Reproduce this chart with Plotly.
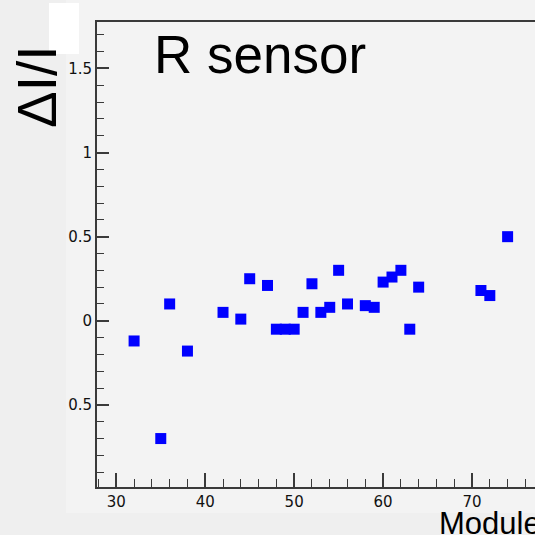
import plotly.graph_objects as go

module = [32, 35, 36, 38, 42, 44, 45, 47, 48, 49, 50, 51, 52, 53, 54, 55, 56, 58, 59, 60, 61, 62, 63, 64, 71, 72, 74]
delta_i = [-0.12, -0.70, 0.10, -0.18, 0.05, 0.01, 0.25, 0.21, -0.05, -0.05, -0.05, 0.05, 0.22, 0.05, 0.08, 0.30, 0.10, 0.09, 0.08, 0.23, 0.26, 0.30, -0.05, 0.20, 0.18, 0.15, 0.50]

x_ticks = [30, 40, 50, 60, 70]
y_tickvals = [-0.5, 0, 0.5, 1, 1.5]
y_ticktext = ["0.5", "0", "0.5", "1", "1.5"]

fig = go.Figure()
fig.add_trace(go.Scatter(
    x=module, y=delta_i, mode="markers",
    marker=dict(symbol="square", size=11, color="#0000ff", line=dict(width=0)),
    showlegend=False, cliponaxis=False, hoverinfo="skip",
))

axis_color = "#3a3a3a"
tick_font = dict(family="DejaVu Sans, sans-serif", size=15, color="#111")
fig.update_layout(
    width=535, height=535,
    margin=dict(l=97, r=0, t=22, b=48, pad=0),
    paper_bgcolor="#efefef",
    plot_bgcolor="#f3f3f3",
    font=dict(family="Liberation Sans, Arial, sans-serif", color="black"),
    xaxis=dict(
        range=[27.83, 77.08], tickvals=x_ticks, ticks="inside", ticklen=14,
        tickwidth=1.5, tickcolor=axis_color, showline=True, linewidth=2,
        linecolor=axis_color, mirror=True, showgrid=False, zeroline=False,
        tickfont=tick_font,
        minor=dict(dtick=2, tick0=30, ticks="inside", ticklen=8, tickcolor=axis_color, tickwidth=1.2, showgrid=False),
    ),
    yaxis=dict(
        range=[-0.988, 1.776], tickvals=y_tickvals, ticktext=y_ticktext, ticks="inside",
        ticklen=12, tickwidth=1.5, tickcolor=axis_color, showline=True, linewidth=2,
        linecolor=axis_color, mirror=False, showgrid=False, zeroline=False,
        tickfont=tick_font,
        minor=dict(dtick=0.1, tick0=0, ticks="inside", ticklen=7, tickcolor=axis_color, tickwidth=1.2, showgrid=False),
    ),
    shapes=[
        dict(type="rect", xref="paper", yref="paper", layer="below",
             x0=(66 - 97) / 438, x1=1, y0=(487 - 513) / 465, y1=1 + 22 / 465,
             fillcolor="#f3f3f3", line=dict(width=0)),
        dict(type="rect", xref="paper", yref="paper", layer="above",
             x0=(49 - 97) / 438, x1=(79 - 97) / 438, y0=(487 - 54) / 465, y1=(487 - 3) / 465,
             fillcolor="#ffffff", line=dict(width=0)),
    ],
    annotations=[
        dict(text="R sensor", xref="paper", yref="paper", x=(152 - 97) / 438, y=(487 - 54) / 465,
             xanchor="left", yanchor="middle", showarrow=False, font=dict(size=53, color="black")),
        dict(text="ΔI/I", xref="paper", yref="paper", x=(37 - 97) / 438, y=(487 - 87) / 465,
             xanchor="center", yanchor="middle", textangle=-90, showarrow=False,
             font=dict(size=55, color="black")),
        dict(text="Module", xref="paper", yref="paper", x=(437 - 97) / 438, y=(487 - 523) / 465,
             xanchor="left", yanchor="middle", showarrow=False, font=dict(size=31, color="black")),
    ],
)

fig.write_html(
    "out.html",
    config={"displayModeBar": False},
    post_script="document.body.style.margin='0';document.body.style.overflow='hidden';document.body.style.background='#efefef';",
)
